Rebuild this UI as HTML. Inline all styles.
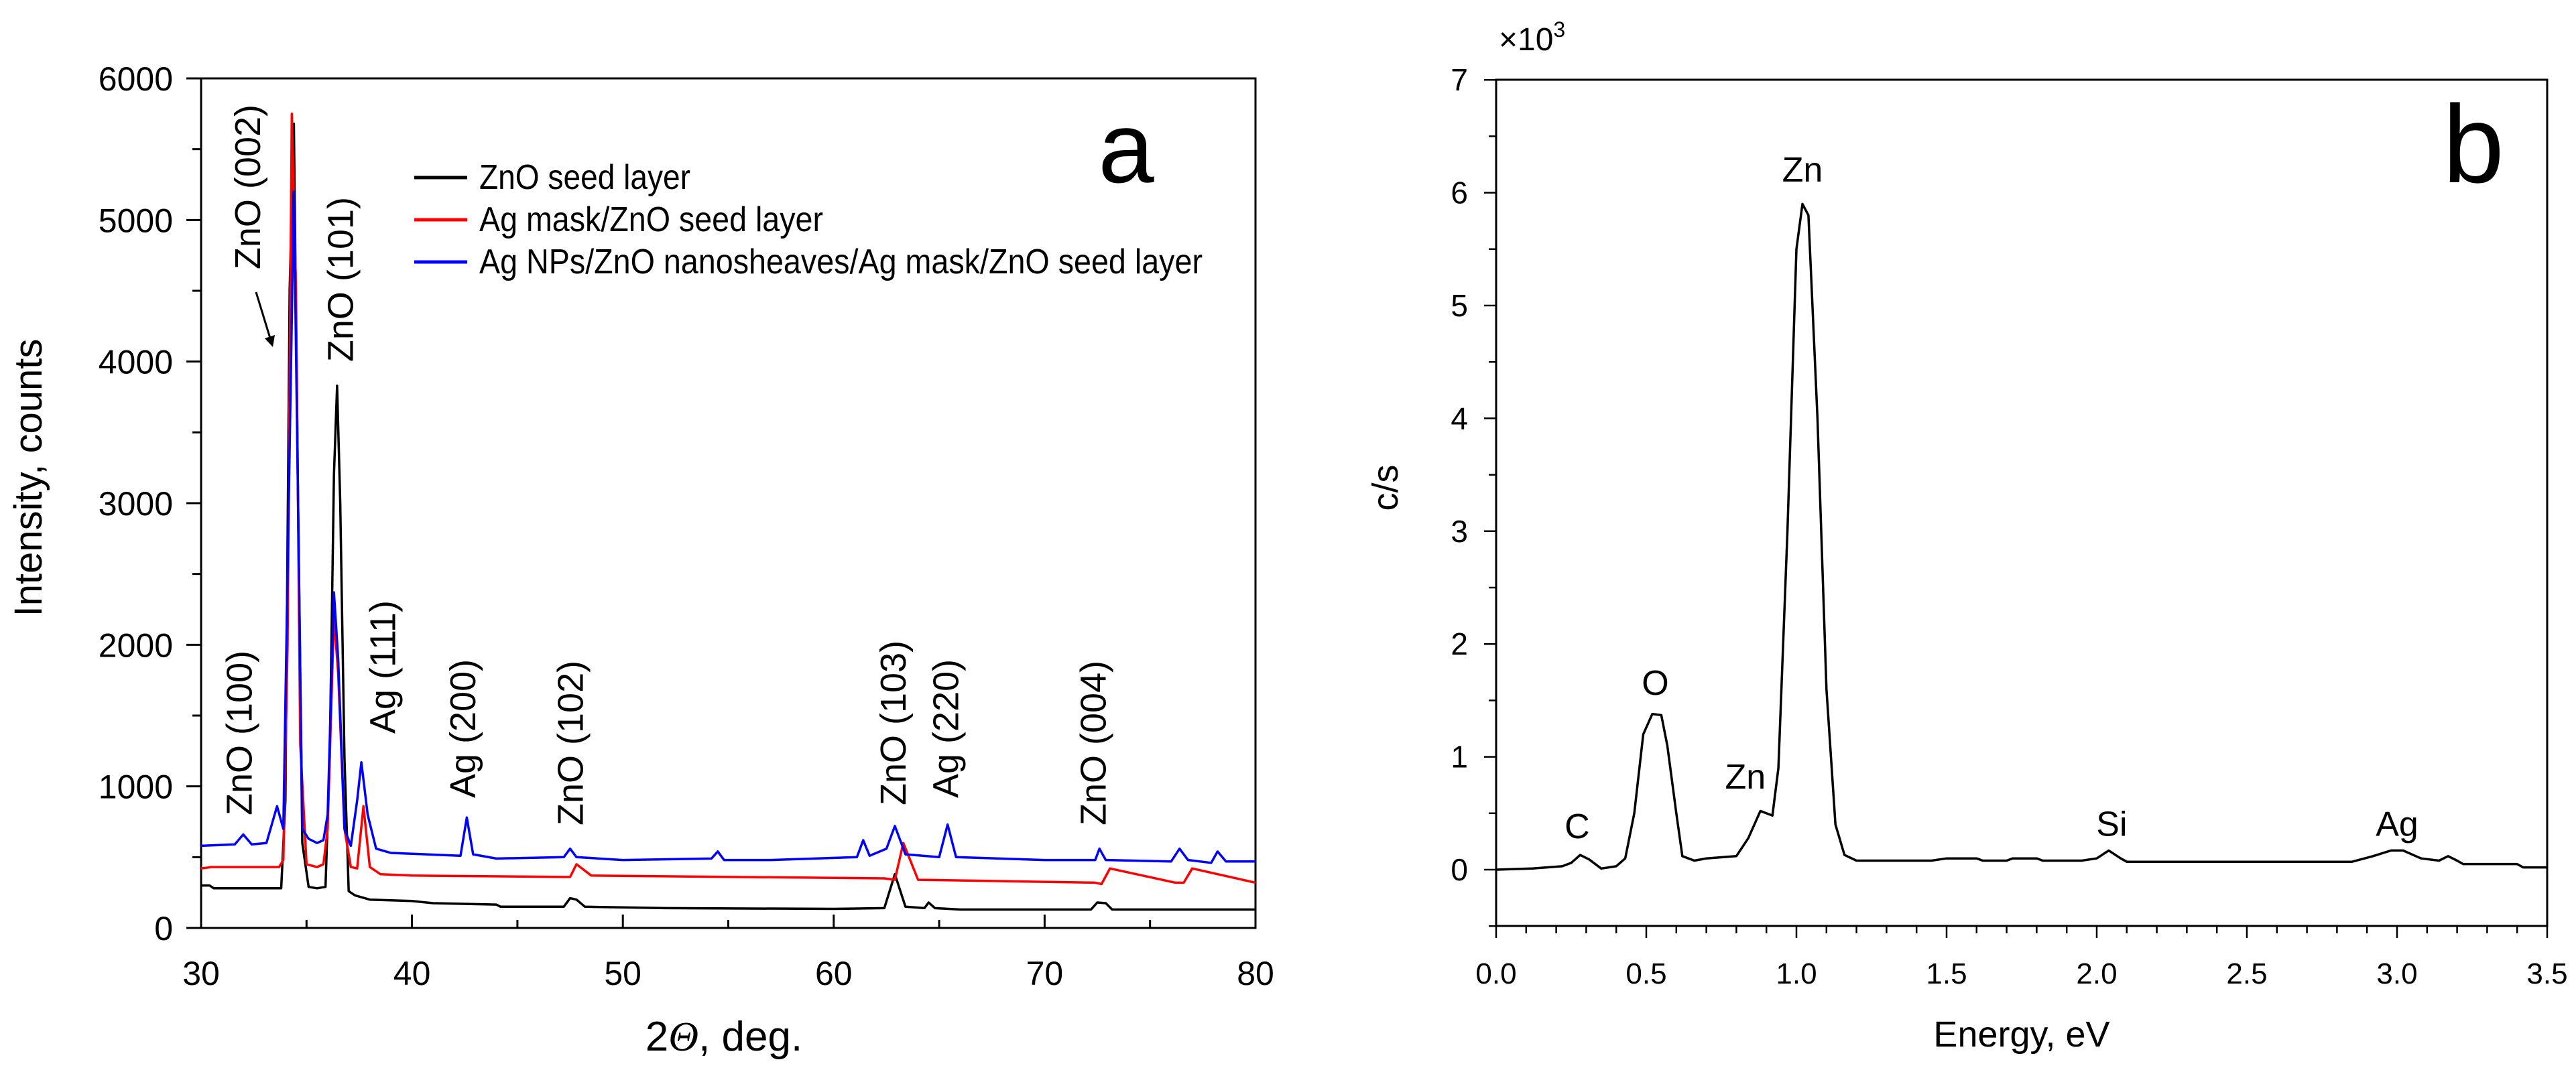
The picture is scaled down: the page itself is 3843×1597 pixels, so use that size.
<!DOCTYPE html>
<html><head><meta charset="utf-8"><style>
body{margin:0;background:#fff}
svg{display:block;font-family:"Liberation Sans",sans-serif}
</style></head><body>
<svg id="fig" width="3843" height="1597" viewBox="0 0 3843 1597">
<g id="pa"></g>
<g id="pb"></g>
</svg>
<script>
// ---- Panel a data (XRD) ----
const xrdTicksX=[30,40,50,60,70,80];
const xrdTicksY=[0,1000,2000,3000,4000,5000,6000];
const blackX=[30,30.4,30.6,33.8,34.0,34.2,34.4,34.6,34.8,35.1,35.5,35.9,36.1,36.3,36.45,36.6,36.8,37.0,37.3,38,40,41,44,44.2,47.2,47.5,47.8,48.2,52,60,62.4,62.9,63.4,64.3,64.5,64.8,66,72.2,72.5,72.9,73.2,80];
const blackY=[300,300,280,280,900,4500,5680,3000,600,290,280,290,1200,3200,3830,3000,1200,260,230,200,190,175,165,150,150,210,200,150,140,135,140,380,150,140,180,140,130,130,180,175,130,130];
const redX=[30,30.5,33.7,33.9,34.1,34.3,34.5,34.7,35.0,35.5,35.8,36.0,36.3,36.5,36.8,37.1,37.4,37.7,38.0,38.5,40,47.2,47.5,47.8,48.5,62.4,62.9,63.3,64,72.4,72.7,73.1,76.2,76.6,77,80];
const redY=[420,430,430,480,2000,5750,4500,1300,450,430,450,700,2200,1800,700,430,420,860,430,380,370,360,360,450,370,350,340,600,340,320,310,420,320,320,420,320,290];
const blueX=[30,31.6,32.0,32.4,33.1,33.6,33.9,34.1,34.4,34.6,34.8,35.1,35.5,35.8,36.0,36.3,36.5,36.8,37.1,37.4,37.6,37.9,38.3,39,42.3,42.6,42.9,44,47.2,47.5,47.8,50,54.2,54.5,54.8,57,61.1,61.4,61.7,62.5,62.9,63.4,65.0,65.4,65.8,70,72.4,72.6,72.9,76.0,76.4,76.8,77.9,78.2,78.6,80];
const blueY=[580,590,660,590,600,860,700,2500,5200,3000,700,630,600,620,800,2370,1900,700,580,900,1170,800,560,530,510,780,520,490,500,560,500,480,490,540,480,480,500,620,510,560,720,520,500,730,500,480,480,560,480,470,560,480,460,540,470,470];
const xrdLabels=["ZnO (100)","ZnO (002)","ZnO (101)","Ag (111)","Ag (200)","ZnO (102)","ZnO (103)","Ag (220)","ZnO (004)"];
const xrdLabelX=[31.8,32.2,36.6,38.6,42.4,47.5,62.8,65.3,72.3];
const xrdLabelBottomY=[795,4651,3998,1372,918,724,866,918,724];
const legendNames=["ZnO seed layer","Ag mask/ZnO seed layer","Ag NPs/ZnO nanosheaves/Ag mask/ZnO seed layer"];
// ---- Panel b data (EDS) ----
const edsTicksX=[0,0.5,1.0,1.5,2.0,2.5,3.0,3.5];
const edsTicksY=[0,1,2,3,4,5,6,7];
const edsX=[0,0.12,0.22,0.25,0.28,0.31,0.35,0.4,0.43,0.46,0.49,0.52,0.55,0.57,0.6,0.62,0.66,0.7,0.8,0.84,0.88,0.92,0.94,0.97,1.0,1.02,1.04,1.07,1.1,1.13,1.16,1.2,1.45,1.5,1.6,1.62,1.7,1.72,1.8,1.82,1.95,2.0,2.04,2.08,2.1,2.85,2.92,2.98,3.02,3.08,3.14,3.17,3.2,3.22,3.4,3.42,3.5];
const edsY=[0,0.01,0.03,0.06,0.13,0.09,0.01,0.03,0.1,0.5,1.2,1.38,1.37,1.1,0.5,0.12,0.08,0.1,0.12,0.28,0.52,0.48,0.9,3.0,5.5,5.9,5.8,4.0,1.6,0.4,0.13,0.08,0.08,0.1,0.1,0.08,0.08,0.1,0.1,0.08,0.08,0.1,0.17,0.1,0.07,0.07,0.12,0.17,0.17,0.1,0.08,0.12,0.08,0.05,0.05,0.02,0.02];
const edsLabels=["C","O","Zn","Zn","Si","Ag"];
const edsLabelX=[0.27,0.53,0.83,1.02,2.05,3.0];
const edsLabelY=[0.28,1.55,0.72,6.1,0.3,0.3];

const NS="http://www.w3.org/2000/svg";
function mk(parent,tag,attrs,txt){const e=document.createElementNS(NS,tag);for(const k in attrs)e.setAttribute(k,attrs[k]);if(txt!==undefined)e.textContent=txt;parent.appendChild(e);return e;}

// Panel a
const pa=document.getElementById('pa');
const ax=v=>300+(v-30)/50*1573, ay=v=>1385-v/6000*1268;
let e=mk(pa,'rect',{x:300,y:117,width:1573,height:1268,fill:'none',stroke:'#000','stroke-width':3});

for(let v=30;v<=80;v+=5){const big=v%10===0;e=mk(pa,'line',{x1:ax(v),x2:ax(v),y1:1385,y2:1385-(big?20:12),stroke:'#000','stroke-width':3});
}
for(let v=0;v<=6000;v+=500){const big=v%1000===0;e=mk(pa,'line',{x1:300,x2:300-(big?22:13),y1:ay(v),y2:ay(v),stroke:'#000','stroke-width':3});
}
xrdTicksX.forEach(v=>{e=mk(pa,'text',{x:ax(v),y:1470,'font-size':50,'text-anchor':'middle'},String(v));
});
xrdTicksY.forEach(v=>{e=mk(pa,'text',{x:258,y:ay(v)+18,'font-size':50,'text-anchor':'end'},String(v));
});
e=mk(pa,'text',{x:1080,y:1568,'font-size':62,'text-anchor':'middle'});
e.innerHTML='2<tspan font-style="italic" font-family="Liberation Serif">Θ</tspan>, deg.';

e=mk(pa,'text',{x:62,y:713,'font-size':58,'text-anchor':'middle',transform:'rotate(-90 62 713)'},'Intensity, counts');

function series(g,xs,ys,fx,fy,col,name){const d=xs.map((x,i)=>(i?'L':'M')+fx(x).toFixed(1)+','+fy(ys[i]).toFixed(1)).join('');
const p=mk(g,'path',{d:d,fill:'none',stroke:col,'stroke-width':3.5,'stroke-linejoin':'round'});
}
series(pa,blackX,blackY,ax,ay,'#000','series-zno-seed');
series(pa,redX,redY,ax,ay,'#ff0000','series-ag-mask');
series(pa,blueX,blueY,ax,ay,'#0000ff','series-ag-nps');
xrdLabels.forEach((t,i)=>{const x=ax(xrdLabelX[i])+19,y=ay(xrdLabelBottomY[i]);
e=mk(pa,'text',{x:x,y:y,'font-size':54,transform:`rotate(-90 ${x} ${y})`},t);
});
e=mk(pa,'path',{d:'M382,436 L404,508',stroke:'#000','stroke-width':3,fill:'none'});

e=mk(pa,'path',{d:'M395,505 L407,518 L410,500 Z',fill:'#000'});

const cols=['#000','#ff0000','#0000ff'];
const legLen=[315,513,1079];
legendNames.forEach((t,i)=>{const y=265+i*63;
e=mk(pa,'line',{x1:618,x2:697,y1:y,y2:y,stroke:cols[i],'stroke-width':5});

e=mk(pa,'text',{x:715,y:y+17,'font-size':52,textLength:legLen[i],lengthAdjust:'spacingAndGlyphs'},t);
});
e=mk(pa,'text',{x:1680,y:272,'font-size':150,'text-anchor':'middle'},'a');


// Panel b
const pb=document.getElementById('pb');
const bx=v=>2232+v/3.5*1568, by=v=>1298-v*168.4;
e=mk(pb,'rect',{x:2232,y:119,width:1568,height:1263,fill:'none',stroke:'#000','stroke-width':3});

for(let i=0;i<=35;i++){const v=i/10,big=i%5===0;e=mk(pb,'line',{x1:bx(v),x2:bx(v),y1:1382,y2:1382+(big?18:11),stroke:'#000','stroke-width':2.5});
}
for(let i=-1;i<=14;i++){const v=i/2,big=i%2===0;e=mk(pb,'line',{x1:2232,x2:2232-(big?18:11),y1:by(v),y2:by(v),stroke:'#000','stroke-width':2.5});
}
edsTicksX.forEach(v=>{e=mk(pb,'text',{x:bx(v),y:1468,'font-size':44,'text-anchor':'middle'},v.toFixed(1));
});
edsTicksY.forEach(v=>{e=mk(pb,'text',{x:2190,y:by(v)+16,'font-size':46,'text-anchor':'end'},String(v));
});
e=mk(pb,'text',{x:2236,y:75,'font-size':48});e.innerHTML='×10<tspan font-size="32" dy="-20">3</tspan>';

e=mk(pb,'text',{x:3016,y:1562,'font-size':54,'text-anchor':'middle'},'Energy, eV');

e=mk(pb,'text',{x:2085,y:728,'font-size':54,'text-anchor':'middle',transform:'rotate(-90 2085 728)'},'c/s');

series(pb,edsX,edsY,bx,by,'#000','eds-spectrum');
edsLabels.forEach((t,i)=>{e=mk(pb,'text',{x:bx(edsLabelX[i]),y:by(edsLabelY[i]),'font-size':52,'text-anchor':'middle'},t);
});
e=mk(pb,'text',{x:3690,y:272,'font-size':165,'text-anchor':'middle'},'b');

</script>
</body></html>
